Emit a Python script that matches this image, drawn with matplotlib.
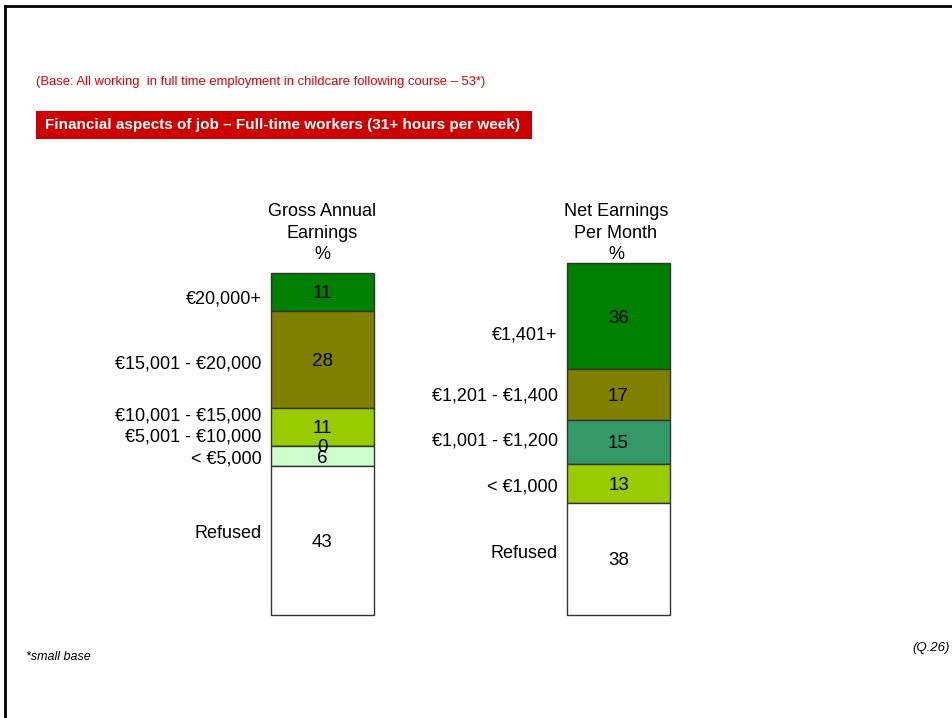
import numpy as np
import matplotlib
matplotlib.use("Agg")
import matplotlib.pyplot as plt
from matplotlib.patches import Rectangle
from matplotlib.lines import Line2D

plt.rcParams['font.family'] = ['Liberation Sans', 'DejaVu Sans']

# data
gross_cats = ["€20,000+", "€15,001 - €20,000", "€10,001 - €15,000",
              "€5,001 - €10,000", "< €5,000", "Refused"]
gross_vals = [11, 28, 11, 0, 6, 43]
gross_cols = ["#008000", "#808000", "#99CC00", "#99CC00", "#CCFFCC", "#FFFFFF"]

net_cats = ["€1,401+", "€1,201 - €1,400", "€1,001 - €1,200", "< €1,000", "Refused"]
net_vals = [36, 17, 15, 13, 38]
net_cols = ["#008000", "#808000", "#339966", "#99CC00", "#FFFFFF"]

# label nudges (data units) so category names don't collide
gross_nudge = [1.4, 0.8, -3.7, -3.1, 0.3, -2.7]
net_nudge = [5.7, -0.2, -1.0, 0.6, -2.3]

W, H = 953, 718
fig = plt.figure(figsize=(W / 100, H / 100), dpi=100)
fig.patch.set_facecolor("white")

def px(x0, y0, x1, y1):
    return [x0 / W, 1 - y1 / H, (x1 - x0) / W, (y1 - y0) / H]

def stack(rect, vals, cols, cats, nudge):
    ax = fig.add_axes(rect)
    bottoms = np.concatenate([[0], np.cumsum(vals)[:-1]])
    ax.bar([0] * len(vals), vals, bottom=bottoms, width=1.0, color=cols,
           edgecolor="#333333", linewidth=1.0, clip_on=False)
    ax.set_xlim(-0.5, 0.5)
    ax.set_ylim(sum(vals), 0)
    ax.axis("off")
    for v, b, c, n in zip(vals, bottoms, cats, nudge):
        ax.text(0, b + v / 2, str(v), ha="center", va="center_baseline", fontsize=13.5, color="black")
        ax.text(-0.59, b + v / 2 + n, c, ha="right", va="center_baseline", fontsize=13, color="black")
    return ax

stack(px(271, 273, 374, 615), gross_vals, gross_cols, gross_cats, gross_nudge)
stack(px(567, 263, 670, 615), net_vals, net_cols, net_cats, net_nudge)

# column headers
for x, hdr in [(322, "Gross Annual\nEarnings\n%"), (616, "Net Earnings\nPer Month\n%")]:
    fig.text(x / W, 1 - 203 / H, hdr, ha="center", va="top", fontsize=13,
             linespacing=1.36)

# base text and red banner
fig.text(36 / W, 1 - 82 / H, "(Base: All working  in full time employment in childcare following course \u2013 53*)",
         ha="left", va="center", fontsize=9.4, color="#DD0000")
fig.patches.append(Rectangle((36 / W, 1 - 139 / H), (532 - 36) / W, 28 / H,
                             transform=fig.transFigure, facecolor="#CC0000",
                             edgecolor="none"))
fig.text(45 / W, 1 - 125 / H, "Financial aspects of job \u2013 Full-time workers (31+ hours per week)",
         ha="left", va="center", fontsize=11, color="white", fontweight="bold")

# footnotes
fig.text(26 / W, 1 - 657 / H, "*small base", ha="left", va="center", fontsize=9, style="italic")
fig.text(950 / W, 1 - 648 / H, "(Q.26)", ha="right", va="center", fontsize=9.5, style="italic")

# slide frame
fig.lines.append(Line2D([5 / W, 1], [1 - 6 / H, 1 - 6 / H], transform=fig.transFigure,
                        color="black", linewidth=2))
fig.lines.append(Line2D([5 / W, 5 / W], [0, 1 - 6 / H], transform=fig.transFigure,
                        color="black", linewidth=2))

fig.savefig("out.png", dpi=100)
